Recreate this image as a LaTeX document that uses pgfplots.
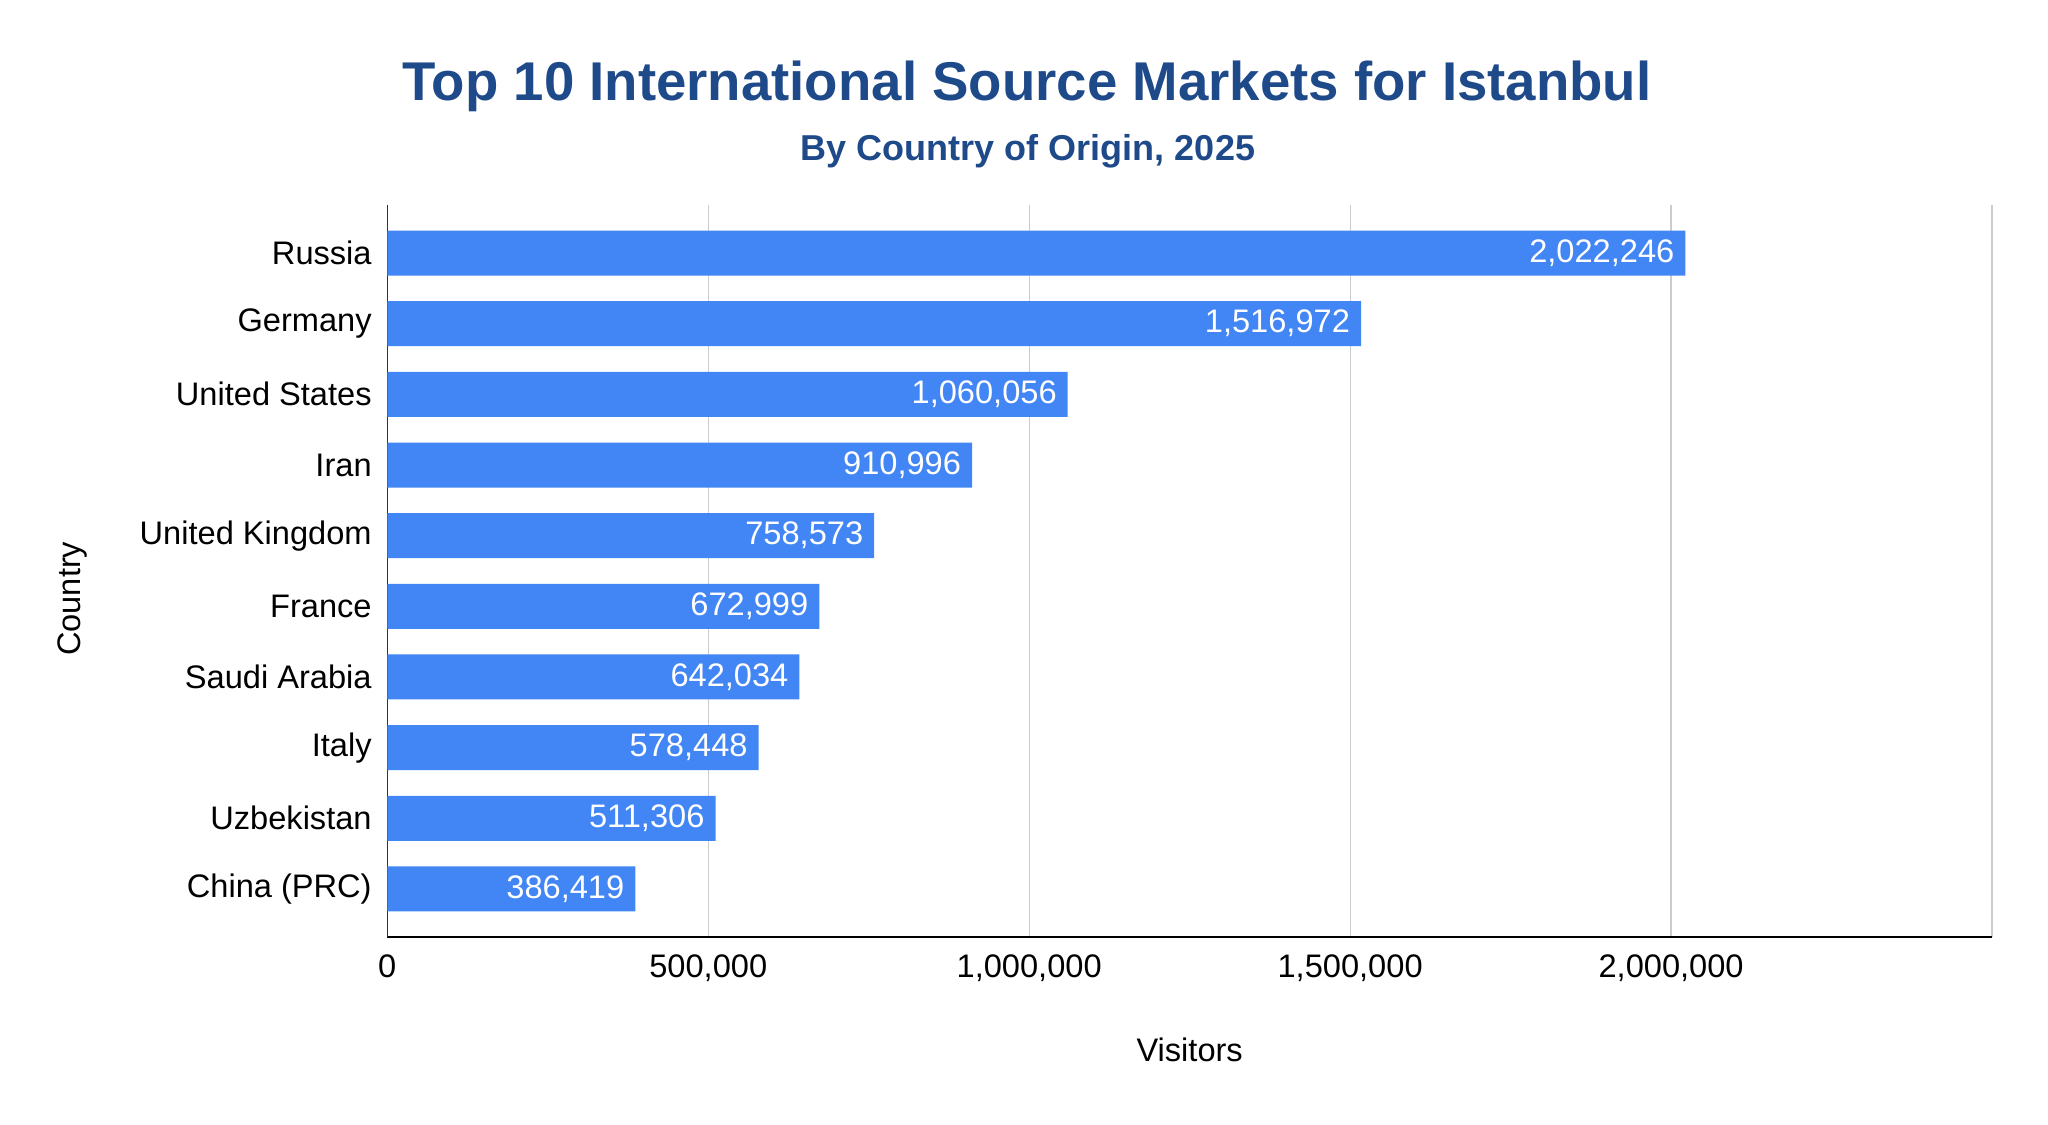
\documentclass[border=0pt]{standalone}
\usepackage{pgfplots}
\pgfplotsset{compat=1.18}
\usepackage{fontspec}
\setmainfont{Liberation Sans}
\definecolor{barblue}{HTML}{4285F4}
\definecolor{titleblue}{HTML}{1F4A8A}
\definecolor{gridgray}{HTML}{CCCCCC}

\begin{document}
\begin{tikzpicture}
\path[use as bounding box] (0,0) rectangle (1024pt,562pt);
\node[anchor=base, font=\bfseries\fontsize{27.3}{30}\selectfont, text=titleblue]
  at (513.5pt,511.5pt) {Top 10 International Source Markets for Istanbul};
\node[anchor=base, font=\bfseries\fontsize{18}{20}\selectfont, text=titleblue]
  at (514pt,481.6pt) {By Country of Origin, 2025};
\begin{axis}[
    at={(193.65pt,93.5pt)}, anchor=south west,
    scale only axis,
    width=802.35pt, height=366pt,
    xbar,
    bar width=22.5pt,
    xmin=0, xmax=2500000,
    ymin=-0.68, ymax=9.68,
    xtick={0,500000,1000000,1500000,2000000,2500000},
    xticklabels={0,{500,000},{1,000,000},{1,500,000},{2,000,000},{}},
    ytick={0,...,9},
    yticklabels={China (PRC),Uzbekistan,Italy,Saudi Arabia,France,United Kingdom,Iran,United States,Germany,Russia},
    scaled x ticks=false,
    xmajorgrids,
    major grid style={gridgray, line width=0.6pt},
    major tick length=0pt,
    axis x line*=bottom,
    axis y line*=left,
    x axis line style={black, line width=1pt},
    y axis line style={black!80, line width=0.7pt},
    tick label style={font=\fontsize{16.3}{18}\selectfont},
    xticklabel style={yshift=-5.5pt},
    yticklabel style={xshift=-4.3pt},
    xlabel={Visitors},
    ylabel={Country},
    label style={font=\fontsize{16.3}{18}\selectfont},
    xlabel style={at={(axis description cs:0.5,-0.1536)}, anchor=center},
    ylabel style={at={(axis description cs:-0.1961,0.462)}, anchor=center},
    point meta=x,
    nodes near coords={\pgfmathprintnumber[fixed,precision=0,1000 sep={,},assume math mode=true]{\pgfplotspointmeta}},
    nodes near coords style={anchor=east, xshift=-2pt, text=white, font=\fontsize{16.3}{18}\selectfont},
]
\addplot[fill=barblue, draw=none] coordinates {
    (386419,0)
    (511306,1)
    (578448,2)
    (642034,3)
    (672999,4)
    (758573,5)
    (910996,6)
    (1060056,7)
    (1516972,8)
    (2022246,9)
};
\end{axis}
\end{tikzpicture}
\end{document}
